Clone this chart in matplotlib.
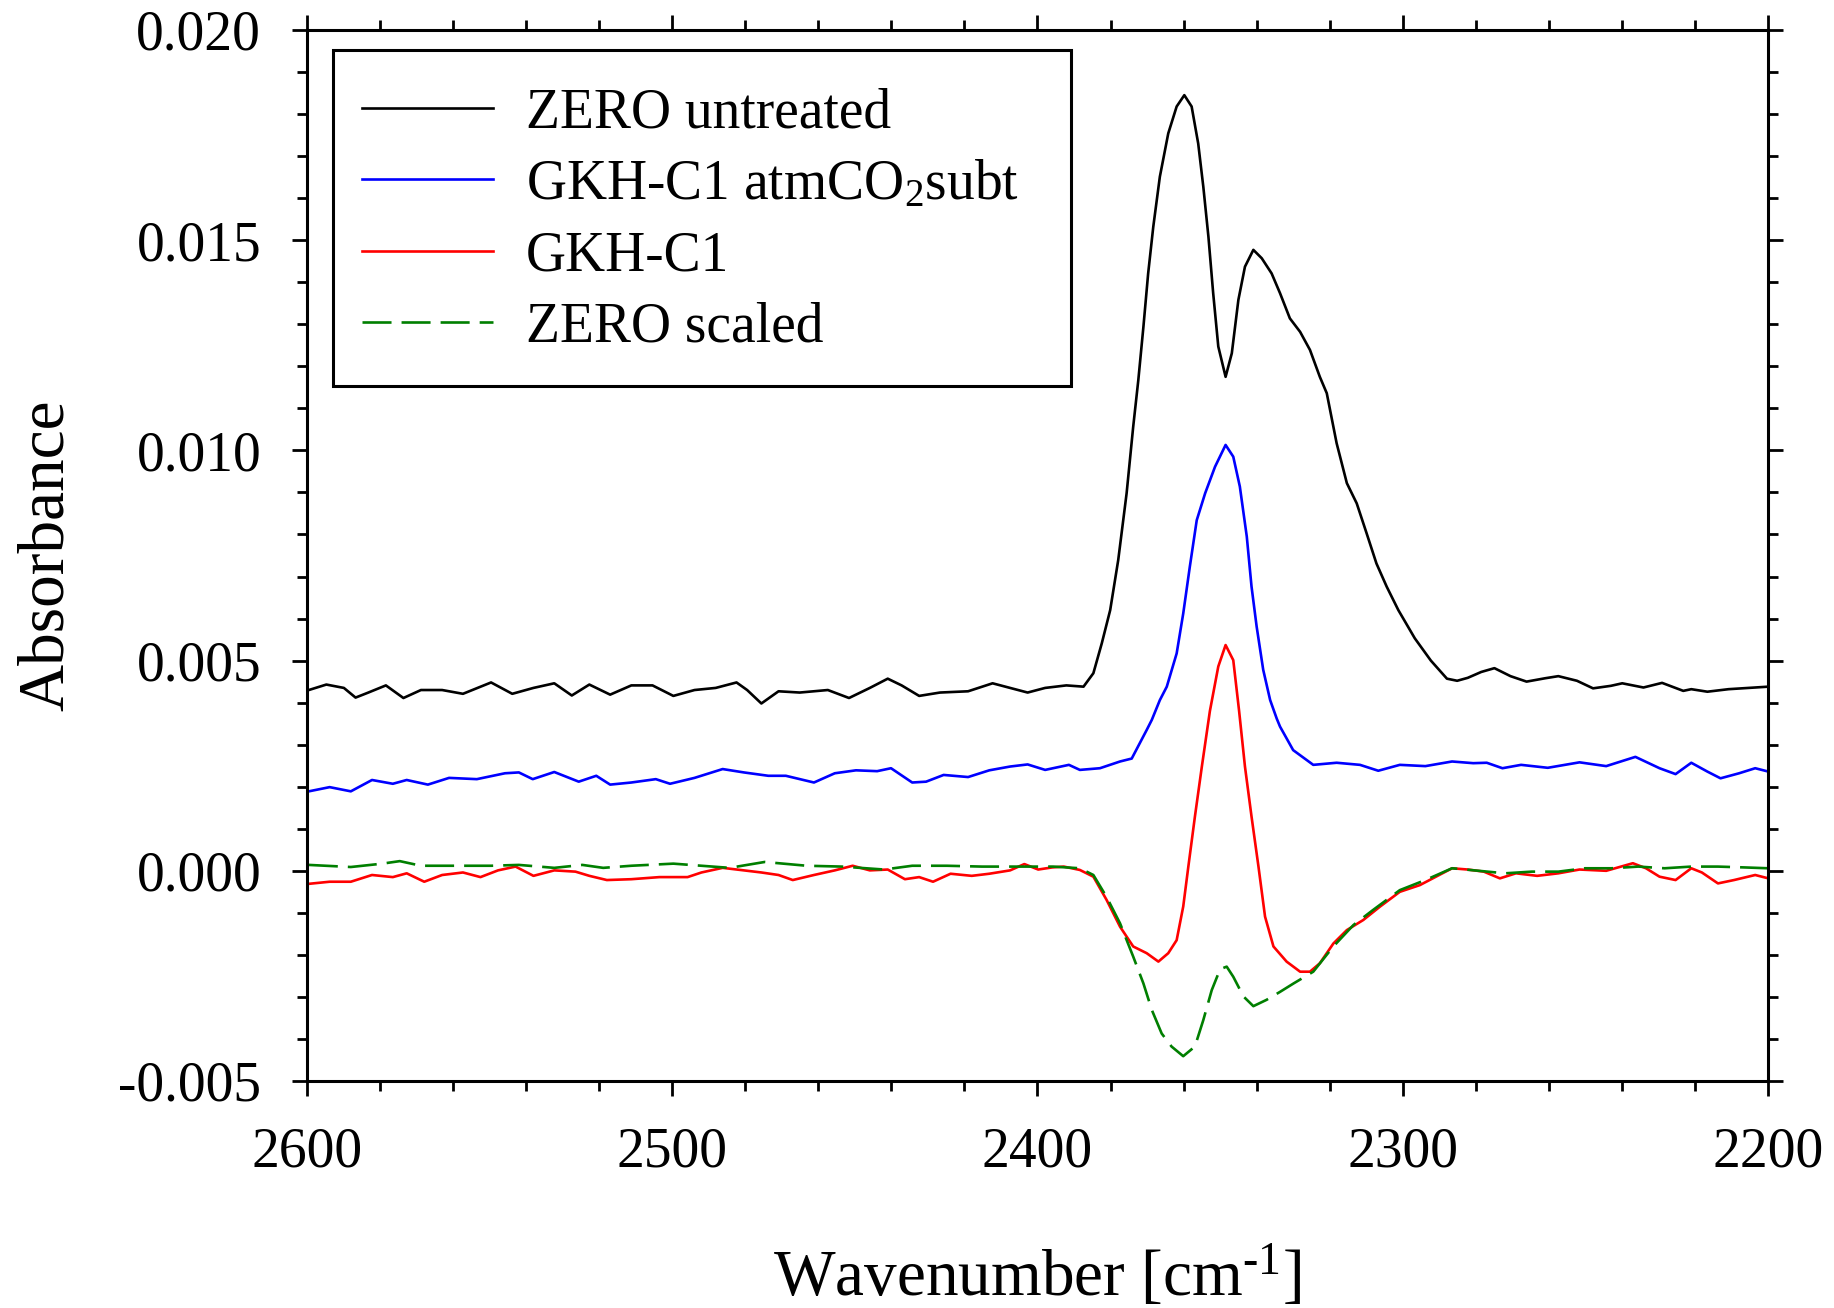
import matplotlib
matplotlib.use('Agg')
import matplotlib.pyplot as plt
from matplotlib.ticker import MultipleLocator, FuncFormatter
from matplotlib.patches import Rectangle

plt.rcParams['font.family'] = ['Liberation Serif', 'DejaVu Serif']
plt.rcParams['mathtext.fontset'] = 'custom'
plt.rcParams['mathtext.rm'] = 'Liberation Serif'
plt.rcParams['mathtext.it'] = 'Liberation Serif:italic'
plt.rcParams['mathtext.bf'] = 'Liberation Serif:bold'

# ---------------- data (wavenumber in cm^-1, absorbance) ----------------
zero_untreated_wn = [2599.5, 2594.7, 2589.9, 2586.7, 2583.2, 2578.4, 2573.6, 2568.8, 2563.0, 2557.3,
                     2549.6, 2543.8, 2538.0, 2532.3, 2527.5, 2522.7, 2517.0, 2511.2, 2505.4, 2499.7,
                     2493.9, 2488.1, 2482.4, 2479.5, 2475.6, 2470.9, 2465.1, 2457.4, 2451.6, 2445.9,
                     2441.0, 2437.2, 2432.4, 2426.7, 2419.0, 2412.3, 2407.5, 2402.7, 2397.9, 2392.1,
                     2387.4, 2384.7, 2382.4, 2380.1, 2377.9, 2375.6, 2373.8, 2372.4, 2371.0, 2369.7,
                     2368.3, 2366.5, 2364.2, 2361.9, 2359.8, 2357.8, 2356.0, 2354.6, 2353.2, 2351.9,
                     2350.5, 2348.5, 2346.8, 2345.0, 2343.2, 2340.9, 2338.6, 2335.9, 2333.6, 2330.9,
                     2328.1, 2325.4, 2322.7, 2320.8, 2318.1, 2315.3, 2312.6, 2309.9, 2307.2, 2304.4,
                     2301.2, 2296.7, 2292.3, 2287.9, 2285.1, 2282.2, 2278.5, 2274.9, 2270.5, 2266.1,
                     2261.0, 2257.4, 2252.3, 2247.9, 2243.0, 2239.9, 2234.1, 2229.0, 2223.2, 2221.0,
                     2216.6, 2210.8, 2203.5, 2199.9]
zero_untreated_abs = [0.00430, 0.00443, 0.00435, 0.00412, 0.00424, 0.00441, 0.00411, 0.00430, 0.00430, 0.00421,
                      0.00448, 0.00421, 0.00435, 0.00446, 0.00417, 0.00443, 0.00419, 0.00441, 0.00441, 0.00416,
                      0.00430, 0.00435, 0.00448, 0.00430, 0.00398, 0.00427, 0.00424, 0.00430, 0.00411, 0.00435,
                      0.00457, 0.00441, 0.00416, 0.00424, 0.00427, 0.00446, 0.00435, 0.00424, 0.00435, 0.00441,
                      0.00438, 0.00470, 0.00541, 0.00620, 0.00739, 0.00898, 0.01056, 0.01167, 0.01294, 0.01421,
                      0.01532, 0.01651, 0.01754, 0.01818, 0.01845, 0.01818, 0.01730, 0.01627, 0.01508, 0.01374,
                      0.01247, 0.01175, 0.01231, 0.01358, 0.01437, 0.01477, 0.01457, 0.01421, 0.01374, 0.01314,
                      0.01282, 0.01239, 0.01175, 0.01136, 0.01017, 0.00922, 0.00874, 0.00803, 0.00731, 0.00676,
                      0.00620, 0.00553, 0.00500, 0.00457, 0.00452, 0.00459, 0.00473, 0.00482, 0.00463, 0.00450,
                      0.00458, 0.00463, 0.00452, 0.00434, 0.00440, 0.00446, 0.00436, 0.00447, 0.00428, 0.00432,
                      0.00426, 0.00432, 0.00436, 0.00438]

gkh_subt_wn = [2599.5, 2593.8, 2588.0, 2582.2, 2576.5, 2572.7, 2566.9, 2561.1, 2553.5, 2545.8,
               2542.0, 2538.2, 2532.3, 2525.6, 2520.8, 2517.0, 2511.2, 2504.5, 2500.6, 2493.9,
               2486.2, 2480.4, 2473.7, 2468.9, 2461.2, 2455.5, 2449.7, 2443.9, 2440.1, 2434.3,
               2430.5, 2425.7, 2419.0, 2413.2, 2407.5, 2402.7, 2397.9, 2391.4, 2388.4, 2382.9,
               2377.4, 2374.2, 2370.1, 2368.7, 2366.5, 2364.6, 2361.9, 2360.1, 2358.3, 2356.4,
               2354.1, 2351.4, 2348.5, 2346.4, 2344.6, 2342.7, 2341.4, 2340.0, 2338.2, 2336.3,
               2334.5, 2333.6, 2330.0, 2324.5, 2318.1, 2311.7, 2306.7, 2300.8, 2293.8, 2286.5,
               2280.7, 2277.0, 2272.7, 2267.6, 2260.3, 2251.6, 2244.3, 2236.3, 2229.7, 2225.3,
               2221.0, 2216.6, 2213.0, 2207.9, 2203.5, 2199.9]
gkh_subt_abs = [0.00189, 0.00199, 0.00189, 0.00216, 0.00207, 0.00216, 0.00205, 0.00221, 0.00218, 0.00232,
                0.00234, 0.00218, 0.00235, 0.00212, 0.00226, 0.00205, 0.00210, 0.00218, 0.00207, 0.00221,
                0.00242, 0.00234, 0.00226, 0.00226, 0.00210, 0.00232, 0.00239, 0.00237, 0.00244, 0.00210,
                0.00212, 0.00228, 0.00223, 0.00239, 0.00248, 0.00253, 0.00240, 0.00252, 0.00240, 0.00244,
                0.00260, 0.00267, 0.00335, 0.00359, 0.00406, 0.00438, 0.00517, 0.00612, 0.00723, 0.00834,
                0.00898, 0.00961, 0.01013, 0.00985, 0.00914, 0.00795, 0.00676, 0.00581, 0.00478, 0.00406,
                0.00362, 0.00343, 0.00287, 0.00252, 0.00257, 0.00252, 0.00238, 0.00252, 0.00249, 0.00260,
                0.00256, 0.00257, 0.00244, 0.00252, 0.00245, 0.00258, 0.00249, 0.00271, 0.00244, 0.00230,
                0.00257, 0.00236, 0.00220, 0.00232, 0.00244, 0.00236]

gkh_wn = [2599.5, 2593.8, 2588.0, 2582.2, 2576.5, 2572.7, 2567.9, 2563.0, 2557.3, 2552.5,
          2547.7, 2542.9, 2538.0, 2532.3, 2526.5, 2522.7, 2517.9, 2511.2, 2503.5, 2495.8,
          2492.0, 2486.2, 2480.4, 2475.6, 2470.9, 2467.0, 2461.2, 2455.5, 2450.6, 2445.9,
          2441.0, 2436.3, 2432.4, 2428.6, 2423.8, 2418.0, 2413.2, 2407.5, 2403.6, 2399.8,
          2396.0, 2392.8, 2388.4, 2384.7, 2381.1, 2377.4, 2373.8, 2370.1, 2366.9, 2364.2,
          2361.9, 2360.1, 2358.7, 2356.9, 2355.0, 2352.8, 2350.5, 2348.5, 2346.4, 2344.8,
          2343.2, 2341.4, 2339.5, 2337.7, 2335.4, 2331.8, 2328.1, 2325.4, 2322.7, 2319.0,
          2315.3, 2310.8, 2306.2, 2300.8, 2295.3, 2290.9, 2286.5, 2282.2, 2277.8, 2273.4,
          2269.0, 2263.2, 2257.4, 2251.6, 2244.3, 2237.0, 2233.4, 2229.7, 2225.3, 2221.0,
          2218.1, 2213.7, 2209.3, 2203.5, 2199.9]
gkh_abs = [-0.00031, -0.00026, -0.00026, -0.00010, -0.00015, -0.00006, -0.00026, -0.00010, -0.00004, -0.00015,
           0.00001, 0.00010, -0.00012, 0.00001, -0.00002, -0.00012, -0.00022, -0.00020, -0.00015, -0.00015,
           -0.00004, 0.00007, 0.00001, -0.00004, -0.00010, -0.00022, -0.00010, 0.00001, 0.00012, 0.00001,
           0.00003, -0.00020, -0.00015, -0.00026, -0.00007, -0.00012, -0.00007, 0.00001, 0.00016, 0.00003,
           0.00008, 0.00010, 0.00002, -0.00014, -0.00069, -0.00133, -0.00180, -0.00196, -0.00216, -0.00196,
           -0.00165, -0.00085, 0.00010, 0.00129, 0.00248, 0.00380, 0.00486, 0.00537, 0.00501, 0.00380,
           0.00248, 0.00129, 0.00010, -0.00109, -0.00180, -0.00216, -0.00240, -0.00240, -0.00220, -0.00173,
           -0.00141, -0.00117, -0.00085, -0.00050, -0.00034, -0.00014, 0.00006, 0.00003, -0.00002, -0.00018,
           -0.00006, -0.00012, -0.00006, 0.00003, 0.00000, 0.00018, 0.00006, -0.00014, -0.00022, 0.00006,
           -0.00004, -0.00030, -0.00022, -0.00010, -0.00018]

zero_scaled_wn = [2599.5, 2588.0, 2579.4, 2574.6, 2568.8, 2559.2, 2549.6, 2542.0, 2532.3, 2524.6,
                  2518.9, 2511.2, 2499.7, 2492.0, 2484.3, 2474.7, 2463.2, 2453.5, 2442.0, 2434.3,
                  2424.8, 2415.2, 2405.5, 2395.7, 2388.4, 2384.7, 2381.1, 2377.4, 2373.8, 2371.0,
                  2368.7, 2366.0, 2363.3, 2360.1, 2356.9, 2354.6, 2352.3, 2350.0, 2348.2, 2346.4,
                  2343.6, 2340.9, 2337.3, 2333.6, 2329.9, 2324.5, 2319.0, 2313.5, 2308.1, 2300.8,
                  2293.8, 2286.5, 2279.2, 2272.0, 2264.7, 2257.4, 2250.1, 2242.8, 2235.5, 2228.3,
                  2221.0, 2213.7, 2206.4, 2199.9]
zero_scaled_abs = [0.00014, 0.00009, 0.00017, 0.00023, 0.00012, 0.00012, 0.00012, 0.00014, 0.00007, 0.00014,
                   0.00007, 0.00012, 0.00017, 0.00012, 0.00007, 0.00021, 0.00012, 0.00010, 0.00003, 0.00012,
                   0.00012, 0.00010, 0.00010, 0.00010, 0.00006, -0.00010, -0.00062, -0.00125, -0.00204, -0.00268,
                   -0.00331, -0.00387, -0.00418, -0.00441, -0.00418, -0.00355, -0.00284, -0.00234, -0.00228, -0.00252,
                   -0.00299, -0.00322, -0.00307, -0.00288, -0.00268, -0.00240, -0.00180, -0.00129, -0.00093, -0.00046,
                   -0.00022, 0.00006, 0.00000, -0.00006, -0.00002, -0.00002, 0.00006, 0.00006, 0.00010, 0.00006,
                   0.00010, 0.00010, 0.00008, 0.00006]

series_labels = ['ZERO untreated', r'GKH-C1 atmCO$\mathrm{_2}$subt', 'GKH-C1', 'ZERO scaled']
series_colors = ['#000000', '#0000ff', '#ff0000', '#007f00']
y_ticks = [-0.005, 0.000, 0.005, 0.010, 0.015, 0.020]
x_ticks = [2600, 2500, 2400, 2300, 2200]

# ---------------- figure ----------------
fig = plt.figure(figsize=(18.34, 13.08), dpi=100)
ax = fig.add_axes([0.16739, 0.17355, 0.79662, 0.80352])

lw = 1.9
ax.plot(zero_untreated_wn, zero_untreated_abs, color=series_colors[0], lw=lw, label=series_labels[0])
ax.plot(gkh_subt_wn, gkh_subt_abs, color=series_colors[1], lw=lw, label=series_labels[1])
ax.plot(gkh_wn, gkh_abs, color=series_colors[2], lw=lw, label=series_labels[2])
ax.plot(zero_scaled_wn, zero_scaled_abs, color=series_colors[3], lw=lw, ls=(0, (11, 3.8)),
        label=series_labels[3])

ax.set_xlim(2600, 2200)
ax.set_ylim(-0.005, 0.020)
ax.set_xticks(x_ticks)
ax.set_yticks(y_ticks)
ax.xaxis.set_minor_locator(MultipleLocator(20))
ax.yaxis.set_minor_locator(MultipleLocator(0.001))
ax.yaxis.set_major_formatter(FuncFormatter(lambda v, _: ('%.3f' % v).replace('-0.000', '0.000')))
ax.xaxis.set_major_formatter(FuncFormatter(lambda v, _: '%d' % round(v)))

for s in ax.spines.values():
    s.set_linewidth(2.2)

ax.tick_params(which='both', direction='out', top=True, right=True, width=2.0,
               labelsize=40, pad=22)
ax.tick_params(which='major', length=11)
ax.tick_params(which='minor', length=7)

ax.set_xlabel(r'Wavenumber [cm$^{\text{-1}}$]', fontsize=47, labelpad=46)
ax.set_ylabel('Absorbance', fontsize=47, labelpad=30)

# legend frame drawn as a rectangle in axes coordinates
frame = Rectangle((0.0178, 0.6613), 0.5051, 0.3197, transform=ax.transAxes,
                  facecolor='white', edgecolor='black', lw=2.2, zorder=4)
ax.add_patch(frame)
leg = ax.legend(loc='upper left', bbox_to_anchor=(0.03765, 0.9453),
                borderaxespad=0, borderpad=0, fontsize=40, frameon=False, handlelength=2.35,
                handletextpad=0.6, labelspacing=0.35)
leg.set_zorder(5)

fig.savefig('out.png', dpi=100, facecolor='white')
